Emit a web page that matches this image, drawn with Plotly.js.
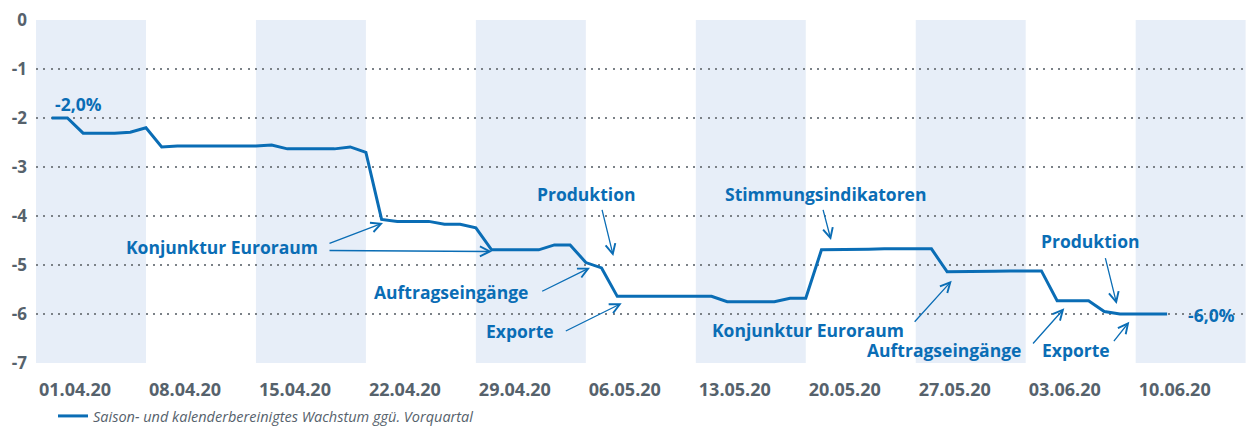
<!DOCTYPE html>
<html>
<head>
<meta charset="utf-8">
<script src="https://cdn.plot.ly/plotly-3.0.1.min.js"></script>
<style>
  html, body { margin: 0; padding: 0; background: #ffffff; }
  #chart { width: 1248px; height: 428px; }
</style>
</head>
<body>
<div id="chart"></div>
<script>
// ---------------- DATA ----------------
const firstDay = '2020-04-02';   // first daily observation
const nowcastValues = [
  -2.00, -2.00, -2.31, -2.31, -2.31, -2.29, -2.20,          // 02.04 - 08.04
  -2.59, -2.57, -2.57, -2.57, -2.57, -2.57, -2.57,          // 09.04 - 15.04
  -2.55, -2.63, -2.63, -2.63, -2.63, -2.59, -2.70,          // 16.04 - 22.04 (+23.04)
  -4.07, -4.11, -4.11, -4.11, -4.17, -4.17, -4.24,          // 24.04 - 30.04
  -4.69, -4.69, -4.69, -4.69, -4.59, -4.59, -4.95,          // 01.05 - 07.05
  -5.06, -5.64, -5.64, -5.64, -5.64, -5.64, -5.64,          // 08.05 - 14.05
  -5.64, -5.75, -5.75, -5.75, -5.75, -5.68, -5.68,          // 15.05 - 21.05
  -4.69, -4.69, -4.69, -4.68, -4.67, -4.67, -4.67,          // 22.05 - 28.05
  -4.67, -5.14, -5.14, -5.14, -5.13, -5.12, -5.12,          // 29.05 - 04.06
  -5.12, -5.73, -5.73, -5.73, -5.95, -6.00, -6.00,          // 05.06 - 11.06
  -6.00, -6.00                                              // 12.06 - 13.06
];
const weekStarts = ['2020-04-01','2020-04-08','2020-04-15','2020-04-22','2020-04-29','2020-05-06',
                    '2020-05-13','2020-05-20','2020-05-27','2020-06-03','2020-06-10'];
const weekLabels = ['01.04.20','08.04.20','15.04.20','22.04.20','29.04.20','06.05.20',
                    '13.05.20','20.05.20','27.05.20','03.06.20','10.06.20'];
const shadedWeeks = ['2020-04-01','2020-04-15','2020-04-29','2020-05-13','2020-05-27','2020-06-10'];
const yTickValues = [0, -1, -2, -3, -4, -5, -6, -7];
const yTickLabels = ['0', '-1', '-2', '-3', '-4', '-5', '-6', '-7'];
const seriesName = 'Saison- und kalenderbereinigtes Wachstum ggü. Vorquartal';
const startLabel = '-2,0%';
const endLabel = '-6,0%';

// ---------------- HELPERS ----------------
function addDays(iso, n) {
  const d = new Date(iso + 'T00:00:00Z');
  d.setUTCDate(d.getUTCDate() + n);
  return d.toISOString().slice(0, 10);
}
const xDates = nowcastValues.map((v, i) => addDays(firstDay, i));

const BLUE = '#0a6db5';
const GREY = '#56626c';
const FONT = 'Open Sans, Noto Sans, sans-serif';

// layout geometry (pixels)
const W = 1248, H = 428, ML = 36, MR = 0, MT = 20, MB = 65;
const PW = W - ML - MR, PH = H - MT - MB;
const px = x => (x - ML) / PW;
const py = y => (MT + PH - y) / PH;

function label(text, cx, cy) {
  return { text: text, xref: 'paper', yref: 'paper', x: px(cx), y: py(cy),
           xanchor: 'center', yanchor: 'middle', showarrow: false,
           font: { family: FONT, size: 17.5, color: BLUE, weight: 700 } };
}
function arrow(tx, ty, hx, hy) {
  return { text: '', xref: 'paper', yref: 'paper', x: px(hx), y: py(hy),
           ax: tx - hx, ay: ty - hy, showarrow: true, arrowhead: 5,
           arrowsize: 1.5, arrowwidth: 1.3, arrowcolor: BLUE, standoff: 0, startstandoff: 0 };
}

const annotations = [
  label(startLabel, 78, 104),
  label('Konjunktur Euroraum', 221.5, 247),
  arrow(328, 244, 383, 223),
  arrow(328, 250.5, 492, 251.5),
  label('Produktion', 586, 194),
  arrow(601.7, 208.3, 613.3, 256),
  label('Auftragseingänge', 451, 292),
  arrow(540.7, 292, 590, 267.7),
  label('Exporte', 520, 331),
  arrow(564.3, 331.7, 621.7, 303.3),
  label('Stimmungsindikatoren', 825, 193.5),
  arrow(822.7, 208.3, 831, 240),
  label('Konjunktur Euroraum', 807.5, 329.5),
  arrow(913.3, 323.3, 951.7, 280.7),
  label('Auftragseingänge', 944, 350),
  arrow(1031.7, 345, 1064.3, 308.3),
  label('Produktion', 1089.7, 240.7),
  arrow(1105, 256.7, 1116.7, 304),
  label('Exporte', 1075.8, 350),
  arrow(1112.7, 342.7, 1129.3, 321.7),
  label(endLabel, 1211, 315)
];

const shapes = shadedWeeks.map(s => ({
  type: 'rect', xref: 'x', yref: 'paper', x0: s, x1: addDays(s, 7), y0: 0, y1: 1,
  fillcolor: '#e7eef8', line: { width: 0 }, layer: 'below'
}));

const trace = {
  type: 'scatter', mode: 'lines', x: xDates, y: nowcastValues, name: seriesName,
  line: { color: BLUE, width: 3 }, hoverinfo: 'skip', cliponaxis: false
};

const layout = {
  width: W, height: H,
  margin: { l: ML, r: MR, t: MT, b: MB, pad: 0 },
  paper_bgcolor: '#ffffff', plot_bgcolor: 'rgba(0,0,0,0)',
  font: { family: FONT, color: GREY },
  xaxis: {
    type: 'date', range: ['2020-04-01', '2020-06-17 03:36'],
    tickmode: 'array', tickvals: weekStarts, ticktext: weekLabels,
    ticklabelshift: 39, ticklabelstandoff: 14,
    showgrid: false, zeroline: false, showline: false, ticks: '',
    tickfont: { family: FONT, size: 18, color: GREY, weight: 700 }
  },
  yaxis: {
    range: [-7, 0], tickmode: 'array', tickvals: yTickValues, ticktext: yTickLabels,
    showgrid: true, gridcolor: '#7b8187', gridwidth: 2, griddash: '2px,5.3px',
    zeroline: false, showline: false, ticks: '', ticklabelstandoff: 8,
    tickfont: { family: FONT, size: 17, color: GREY, weight: 700 }
  },
  showlegend: true,
  legend: {
    orientation: 'h', xref: 'container', yref: 'container',
    x: 53 / W, y: 1 - 416 / H, xanchor: 'left', yanchor: 'middle',
    bgcolor: 'rgba(0,0,0,0)', borderwidth: 0,
    font: { family: FONT, size: 14.5, color: GREY, style: 'italic', weight: 400 }
  },
  shapes: shapes,
  annotations: annotations
};

Plotly.newPlot('chart', [trace], layout, { displayModeBar: false, staticPlot: true });
</script>
</body>
</html>
